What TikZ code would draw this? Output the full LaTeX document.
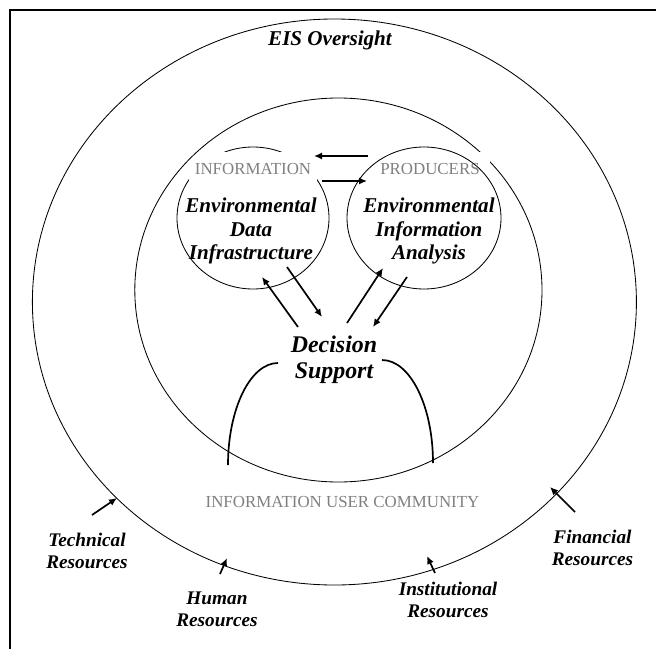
\documentclass[tikz,border=0pt]{standalone}
\usepackage{fontspec}
\setmainfont{Liberation Serif}
\usepackage{tikz}
\usetikzlibrary{arrows.meta}
\definecolor{capgray}{RGB}{128,128,128}

\begin{document}
\begin{tikzpicture}[
            flow/.style={-{Latex[length=2mm,width=1.8mm]},line width=1.2pt},
            ring/.style={line width=0.6pt},
            heading/.style={font=\fontsize{15}{17}\selectfont\bfseries\itshape,align=center},
            resource/.style={font=\fontsize{13.7}{15.7}\selectfont\bfseries\itshape,align=center},
            caps/.style={font=\fontsize{12}{14}\selectfont,text=capgray},
            ]
            \useasboundingbox (0,0) rectangle (16.4,-16.225);

            \draw[line width=1.4pt] (0.26,-16.225) -- (0.26,-0.25) -- (16.4,-0.25);

            \draw[ring] (8.36,-7.55) coordinate(oversight) ellipse (7.55 and 7.075);
            \draw[ring] (6.325,-5.45) coordinate(edi) ellipse (1.9 and 1.775);
            \node[caps,fill=white,inner sep=0pt,minimum width=3.2cm,minimum height=0.83cm] (info) at (6.325,-4.225) {INFORMATION};
            \draw[ring] (8.46,-7.25) coordinate(users) ellipse (5.09 and 4.8);
            \node[caps,fill=white,inner sep=0pt,minimum width=3.0cm,minimum height=0.83cm] (prod) at (10.75,-4.225) {PRODUCERS};
            \draw[ring] (10.6,-5.45) coordinate(eia) ellipse (1.925 and 1.775);

            \node[heading] (top) at (8.25,-1.0) {EIS Oversight};
            \node[heading] (data) at (6.275,-5.775) {Environmental\\Data\\Infrastructure};
            \node[heading] (analysis) at (10.725,-5.775) {Environmental\\Information\\Analysis};
            \node[font=\fontsize{17}{18.5}\selectfont\bfseries\itshape,align=center] (decision) at (8.35,-9.0) {Decision\\Support};
            \node[caps] (community) at (8.5625,-12.55) {INFORMATION USER COMMUNITY};

            \node[resource] (technical) at (2.175,-13.775) {Technical\\Resources};
            \node[resource] (human) at (5.425,-15.225) {Human\\Resources};
            \node[resource] (institutional) at (11.2,-15.0) {Institutional\\Resources};
            \node[resource] (financial) at (14.8125,-13.7) {Financial\\Resources};

            \draw[line width=1.2pt] (6.95,-9.075) arc (90:180:1.25 and 2.55);
            \draw[line width=1.2pt] (9.55,-9.0) arc (90:0:1.275 and 2.575);

            \coordinate (a) at (9.2,-3.9);
            \coordinate (b) at (7.85,-3.9);
            \coordinate (c) at (8.05,-4.525);
            \coordinate (d) at (9.175,-4.525);
            \draw[flow] (a) -- (b);
            \draw[flow] (c) -- (d);

            \coordinate (e) at (7.45,-8.175);
            \coordinate (f) at (6.55,-6.925);
            \coordinate (g) at (7.175,-6.675);
            \coordinate (h) at (8.05,-7.925);
            \coordinate (i) at (8.675,-8.075);
            \coordinate (j) at (9.575,-6.7);
            \coordinate (k) at (10.175,-6.925);
            \coordinate (l) at (9.325,-8.175);
            \draw[flow] (e) -- (f);
            \draw[flow] (g) -- (h);
            \draw[flow] (i) -- (j);
            \draw[flow] (k) -- (l);

            \coordinate (m) at (2.3,-12.875);
            \coordinate (n) at (2.925,-12.45);
            \coordinate (o) at (5.5,-14.35);
            \coordinate (p) at (5.675,-13.95);
            \coordinate (q) at (10.875,-14.325);
            \coordinate (r) at (10.675,-13.9);
            \coordinate (s) at (14.375,-12.8);
            \coordinate (t) at (13.75,-12.175);
            \draw[flow] (m) -- (n);
            \draw[flow] (o) -- (p);
            \draw[flow] (q) -- (r);
            \draw[flow] (s) -- (t);
        \end{tikzpicture}
\end{document}
